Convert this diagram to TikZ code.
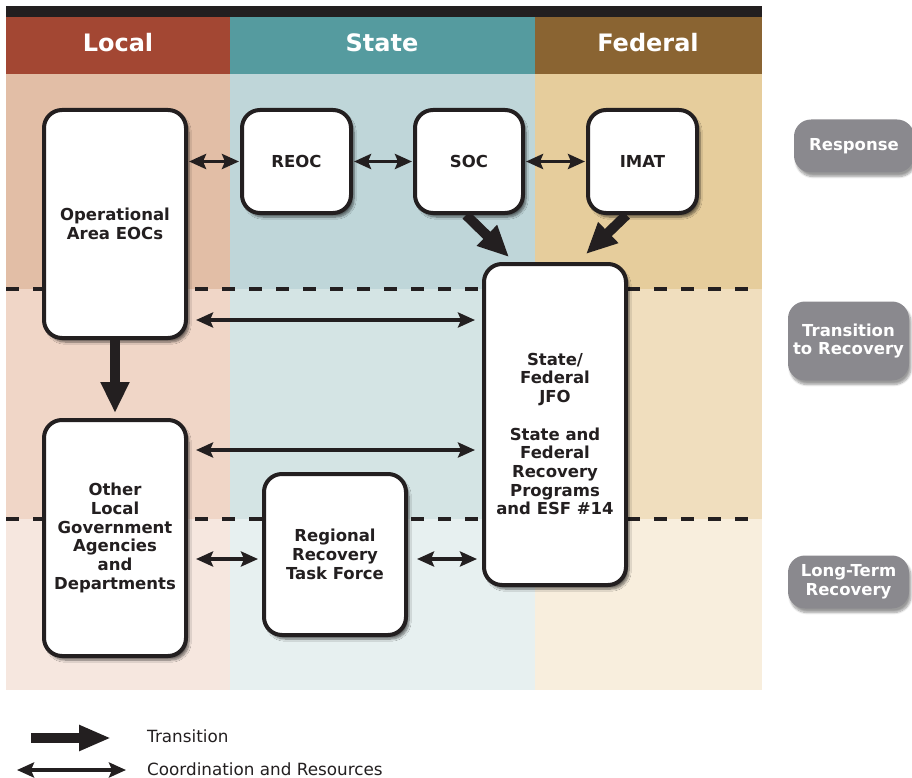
\documentclass[tikz,border=0pt]{standalone}
\usepackage{fontspec}
\setmainfont{DejaVu Sans}
\usetikzlibrary{arrows.meta,shadows.blur,calc}
\definecolor{hdrLocal}{HTML}{A34733}
\definecolor{hdrState}{HTML}{559B9F}
\definecolor{hdrFed}{HTML}{8A6432}
\definecolor{lr}{HTML}{E2BEA6}
\definecolor{lt}{HTML}{F0D6C7}
\definecolor{ll}{HTML}{F6E7DF}
\definecolor{sr}{HTML}{BFD6D9}
\definecolor{st}{HTML}{D4E4E4}
\definecolor{sl}{HTML}{E7F0F0}
\definecolor{fr}{HTML}{E6CD9C}
\definecolor{ft}{HTML}{F0DEBE}
\definecolor{fl}{HTML}{F8EEDD}
\definecolor{ink}{HTML}{231F20}
\definecolor{pillgray}{HTML}{8A898E}
\tikzset{
  box/.style={draw=ink, line width=4pt, fill=white, rounded corners=18pt, inner sep=0pt,
    align=center, font=\bfseries\fontsize{16.5}{18.7}\selectfont, text=ink,
    blur shadow={shadow xshift=3pt, shadow yshift=-4pt, shadow blur steps=8, shadow opacity=55}},
  boxtext/.style={align=center, font=\bfseries\fontsize{16.5}{18.7}\selectfont, text=ink, inner sep=0pt},
  pill/.style={fill=pillgray, rounded corners=17pt, inner sep=0pt, align=center,
    font=\bfseries\fontsize{16.5}{18.7}\selectfont, text=white,
    blur shadow={shadow xshift=2pt, shadow yshift=-4pt, shadow blur steps=8, shadow opacity=40}},
  hdr/.style={font=\bfseries\fontsize{24}{28}\selectfont, text=white, inner sep=0pt, anchor=base},
  coord/.style={draw=ink, line width=3.5pt,
    {Stealth[length=17pt,width=15pt,inset=3pt]}-{Stealth[length=17pt,width=15pt,inset=3pt]}},
  trans/.style={draw=ink, line width=10pt, -{Triangle[length=31pt,width=27pt]}},
  phase/.style={draw=ink, line width=4pt, dash pattern=on 13pt off 14pt},
  legendtext/.style={font=\fontsize{16.8}{19}\selectfont, text=ink, inner sep=0pt, anchor=base west}
}
\begin{document}
\begin{tikzpicture}[x=1pt,y=-1pt]
\useasboundingbox (0,0) rectangle (912,778);
% top bar and headers
\fill[ink] (6,6) rectangle (762,17);
\fill[hdrLocal] (6,17) rectangle (230,74);
\fill[hdrState] (230,17) rectangle (535,74);
\fill[hdrFed] (535,17) rectangle (762,74);
\node[hdr] (hLocal) at (118,52) {Local};
\node[hdr] (hState) at (382,52) {State};
\node[hdr] (hFed) at (648,52) {Federal};
% bands
\fill[lr] (6,74) rectangle (230,289);
\fill[lt] (6,289) rectangle (230,519);
\fill[ll] (6,519) rectangle (230,690);
\fill[sr] (230,74) rectangle (535,289);
\fill[st] (230,289) rectangle (535,519);
\fill[sl] (230,519) rectangle (535,690);
\fill[fr] (535,74) rectangle (762,289);
\fill[ft] (535,289) rectangle (762,519);
\fill[fl] (535,519) rectangle (762,690);
% phase dividers
\draw[phase] (6,289) -- (762,289);
\draw[phase] (6,519) -- (762,519);
% boxes
\node[box, minimum width=142pt, minimum height=228pt] (opa) at (115,224) {Operational\\Area EOCs};
\node[box, minimum width=109pt, minimum height=103pt] (reoc) at (296.5,161.5) {REOC};
\node[box, minimum width=108pt, minimum height=103pt] (soc) at (469,161.5) {SOC};
\node[box, minimum width=109pt, minimum height=103pt] (imat) at (642.5,161.5) {IMAT};
\node[box, minimum width=142pt, minimum height=321pt] (jfo) at (555,424.5) {};
\node[boxtext] (jfotext) at (555,434) {State/\\Federal\\JFO\\[18.7pt]State and\\Federal\\Recovery\\Programs\\and ESF \#14};
\node[box, minimum width=142pt, minimum height=236pt] (oth) at (115,538) {Other\\Local\\Government\\Agencies\\and\\Departments};
\node[box, minimum width=142pt, minimum height=161pt] (rrtf) at (335,554.5) {Regional\\Recovery\\Task Force};
% pills
\node[pill, minimum width=120pt, minimum height=53pt] (pResp) at (854,146) {Response};
\node[pill, minimum width=121pt, minimum height=79pt] (pTrans) at (848.5,341) {Transition\\to Recovery};
\node[pill, minimum width=121pt, minimum height=53pt] (pLong) at (848.5,582) {Long-Term\\Recovery};
% coordination arrows
\draw[coord, shorten <=1pt, shorten >=1pt] (opa.east |- reoc.west) -- (reoc.west);
\draw[coord, shorten <=1pt, shorten >=1pt] (reoc.east) -- (soc.west);
\draw[coord, shorten <=1pt, shorten >=1pt] (soc.east) -- (imat.west);
\draw[coord] ($(opa.east |- 0,320)+(8,0)$) -- ($(jfo.west |- 0,320)+(-7,0)$);
\draw[coord] ($(oth.east |- 0,450)+(8,0)$) -- ($(jfo.west |- 0,450)+(-7,0)$);
\draw[coord] ($(oth.east |- 0,559)+(8,0)$) -- ($(rrtf.west |- 0,559)+(-4,0)$);
\draw[coord] ($(rrtf.east |- 0,559)+(9,0)$) -- ($(jfo.west |- 0,559)+(-5,0)$);
% transition arrows
\draw[trans, shorten >=5pt] (opa.south) -- (oth.north);
\draw[trans] ([xshift=-3pt]soc.south) -- ([xshift=27pt,yshift=5pt]jfo.north west);
\draw[trans] ([xshift=-16pt]imat.south) -- ([xshift=-42pt,yshift=8pt]jfo.north east);
% legend
\coordinate (lgA1) at (31,738);
\coordinate (lgA2) at (111,738);
\draw[draw=ink, line width=10pt, -{Triangle[length=32pt,width=24pt]}] (lgA1) -- (lgA2);
\node[legendtext] (lgT1) at (147,742) {Transition};
\coordinate (lgB1) at (17,770);
\coordinate (lgB2) at (126,770);
\draw[coord] (lgB1) -- (lgB2);
\node[legendtext] (lgT2) at (147,775) {Coordination and Resources};
\end{tikzpicture}
\end{document}
